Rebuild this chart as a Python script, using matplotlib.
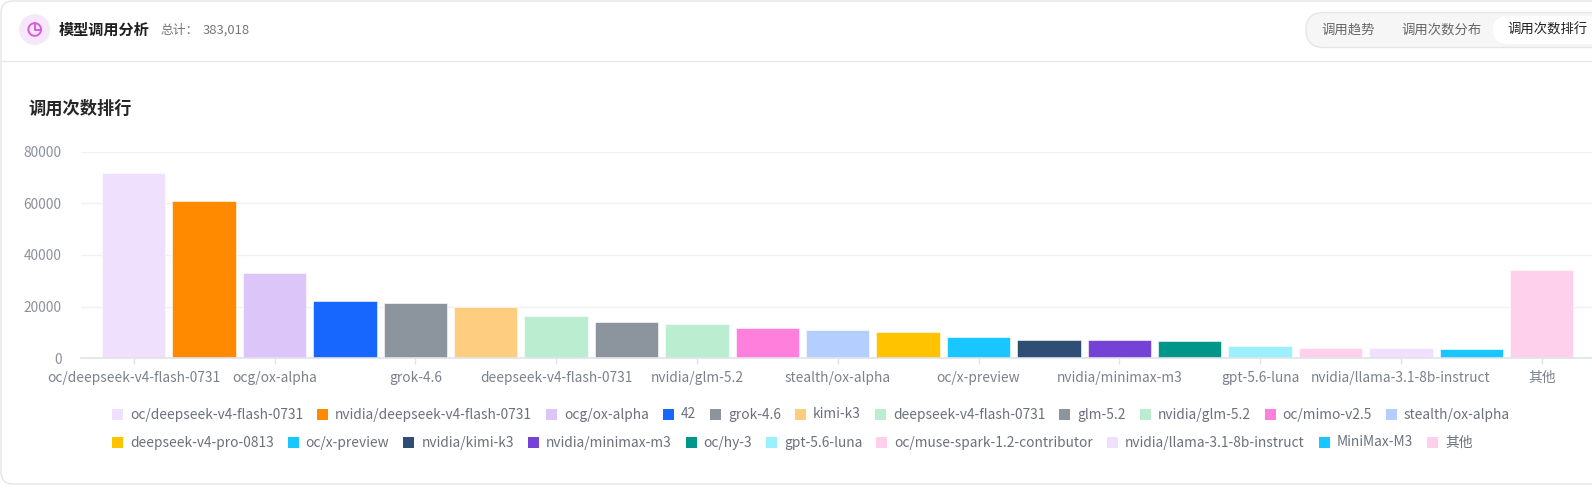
import matplotlib

matplotlib.use("Agg")
import matplotlib.pyplot as plt
from matplotlib.patches import FancyBboxPatch, Rectangle, Circle, Arc

plt.rcParams["font.family"] = ["Noto Sans CJK SC", "DejaVu Sans"]

# ---- data ----
models = [
    "oc/deepseek-v4-flash-0731", "nvidia/deepseek-v4-flash-0731", "ocg/ox-alpha",
    "42", "grok-4.6", "kimi-k3", "deepseek-v4-flash-0731", "glm-5.2",
    "nvidia/glm-5.2", "oc/mimo-v2.5", "stealth/ox-alpha", "deepseek-v4-pro-0813",
    "oc/x-preview", "nvidia/kimi-k3", "nvidia/minimax-m3", "oc/hy-3",
    "gpt-5.6-luna", "oc/muse-spark-1.2-contributor", "nvidia/llama-3.1-8b-instruct",
    "MiniMax-M3", "其他",
]
calls = [
    71800, 60700, 32900, 22300, 21400, 19900, 16200, 14000,
    13300, 11800, 11100, 10200, 8200, 6900, 6900, 6600,
    4700, 3900, 3900, 3700, 34200,
]
colors = [
    "#efe0fd", "#ff8a00", "#dcc5f8", "#1767ff", "#8c959e", "#ffcd80", "#bbedd0", "#8c959e",
    "#bbedd0", "#ff80dc", "#b4cfff", "#ffc300", "#1ac6ff", "#2f4d75", "#7443d5", "#00968a",
    "#9af0fc", "#ffd0ec", "#efe0fd", "#1ac6ff", "#ffd0ec",
]
legend_rows = [11, 10]
y_ticks = [0, 20000, 40000, 60000, 80000]
total_label = "383,018"

W, H = 1592, 491
fig = plt.figure(figsize=(W / 100, H / 100), dpi=100)
fig.patch.set_facecolor("white")

# overlay in pixel coordinates for the card chrome
bg = fig.add_axes([0, 0, 1, 1], zorder=0)
bg.set_xlim(0, W)
bg.set_ylim(H, 0)
bg.axis("off")

bg.add_patch(FancyBboxPatch((1, 1), W + 40, 483, boxstyle="round,pad=0,rounding_size=12",
                            fc="white", ec="#e4e4e7", lw=1))
bg.plot([1, W], [61, 61], color="#e8e8ea", lw=1)

# header icon
cx, cy = 34.7, 29.5
bg.add_patch(Circle((cx, cy), 15.5, fc="#f7e7fb", ec="none"))
r = 6.3
bg.add_patch(Arc((cx, cy), 2 * r, 2 * r, theta1=0, theta2=360, color="#d85cdc", lw=1.4))
bg.plot([cx, cx, cx + r], [cy - r, cy, cy], color="#d85cdc", lw=1.4, solid_capstyle="round")

bg.text(59, 30, "模型调用分析", fontsize=10.9, fontweight="bold", color="#1f1f1f", va="center")
bg.text(160, 30, "总计：", fontsize=9.2, color="#777777", va="center")
bg.text(203, 30, total_label, fontsize=9.4, color="#777777", va="center")

# tabs
bg.add_patch(FancyBboxPatch((1306, 12.5), 320, 35, boxstyle="round,pad=0,rounding_size=17.5",
                            fc="#f6f6f7", ec="#e6e6e8", lw=1))
bg.add_patch(FancyBboxPatch((1493, 16), 130, 28, boxstyle="round,pad=0,rounding_size=14",
                            fc="white", ec="none"))
bg.text(1348, 30, "调用趋势", fontsize=9.6, color="#666666", va="center", ha="center")
bg.text(1441, 30, "调用次数分布", fontsize=9.6, color="#666666", va="center", ha="center")
bg.text(1547, 30, "调用次数排行", fontsize=9.6, color="#222222", va="center", ha="center")

bg.text(28, 109, "调用次数排行", fontsize=12.4, fontweight="bold", color="#262626", va="center")

# ---- bar chart ----
px_left, px_right = 81, W
px_top, px_bottom = 151.6, 358.3
ax = fig.add_axes([px_left / W, 1 - px_bottom / H, (px_right - px_left) / W,
                   (px_bottom - px_top) / H], zorder=1)
ax.patch.set_alpha(0)
xs = list(range(len(models)))
ax.bar(xs, calls, width=0.9, color=colors, edgecolor="white", linewidth=0.4, zorder=2)

step, c0 = 70.4, 133.7
ax.set_xlim((px_left - c0) / step, (px_right - c0) / step)
ax.set_ylim(0, 80000)
ax.set_yticks(y_ticks)
ax.set_yticklabels([str(v) for v in y_ticks])
ax.grid(axis="y", color="#f0f1f3", lw=1, zorder=0)
ax.set_xticks(xs[::2])
ax.set_xticklabels(models[::2])
for s in ("top", "right", "left"):
    ax.spines[s].set_visible(False)
ax.spines["bottom"].set_color("#e0e3ea")
ax.spines["bottom"].set_linewidth(1.2)
ax.tick_params(axis="y", length=0, pad=14, labelsize=9.9, labelcolor="#8b919c")
ax.tick_params(axis="x", length=4, width=1, color="#e0e3ea", pad=5,
               labelsize=9.9, labelcolor="#7b818c")

# ---- legend, laid out as flowing rows ----
marker, text_gap = 11, 7
texts = []
for lbl in models:
    t = bg.text(0, 0, lbl, fontsize=9.9, color="#6b717c", va="center")
    texts.append(t)
fig.canvas.draw()
renderer = fig.canvas.get_renderer()
widths = [t.get_window_extent(renderer).width for t in texts]

row1 = legend_rows[0]
used = sum(marker + text_gap + w for w in widths[:row1])
gap = (1510 - 112 - used) / (row1 - 1)

i = 0
for row, n in enumerate(legend_rows):
    y = 414 + row * 28
    x = 112
    for _ in range(n):
        bg.add_patch(Rectangle((x, y - 5.5), marker, marker, fc=colors[i], ec="none"))
        texts[i].set_position((x + marker + text_gap, y + 0.5))
        x += marker + text_gap + widths[i] + gap
        i += 1

fig.savefig("out.png", dpi=100, facecolor="white")
